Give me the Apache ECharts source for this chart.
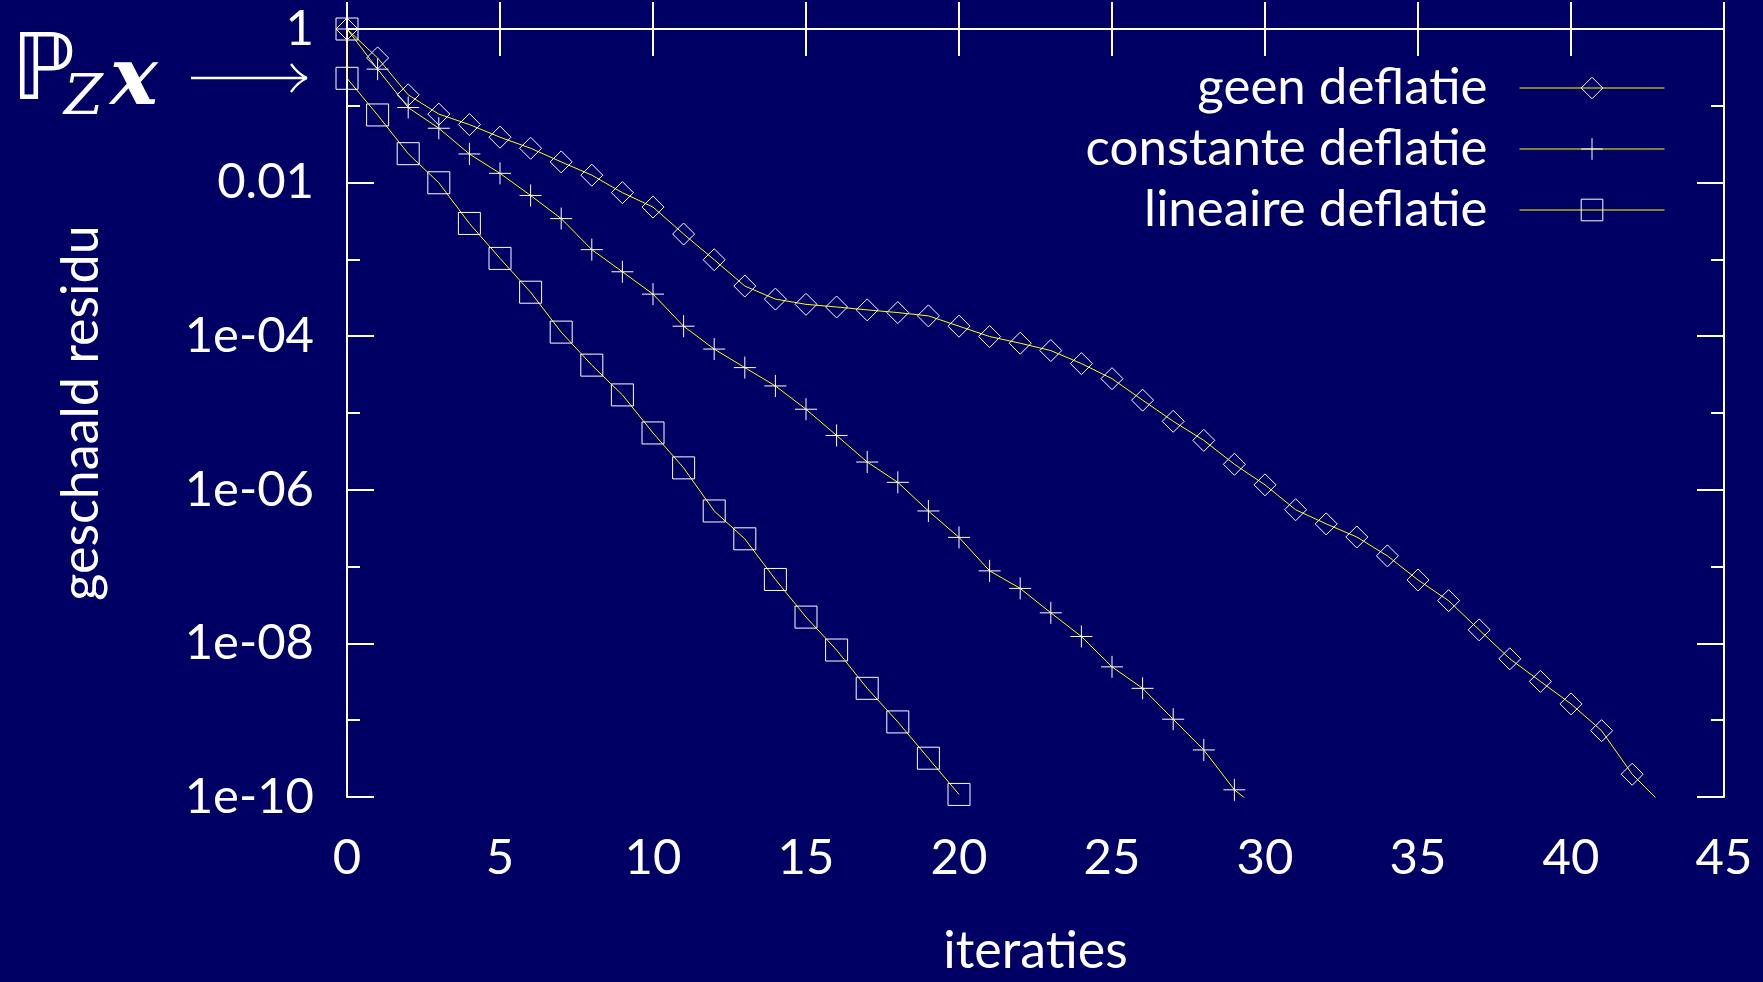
<!DOCTYPE html>
<html>
<head>
<meta charset="utf-8">
<script src="https://cdn.jsdelivr.net/npm/echarts@6/dist/echarts.min.js"></script>
<style>
  html, body { margin: 0; padding: 0; background: #000064; overflow: hidden; }
  #chart { width: 1763px; height: 982px; }
</style>
</head>
<body>
<div id="chart"></div>
<script>
// ---- data ----
const seriesNames = ['geen deflatie', 'constante deflatie', 'lineaire deflatie'];

const geenIter = [0,1,2,3,4,5,6,7,8,9,10,11,12,13,14,15,16,17,18,19,20,21,22,23,24,25,26,27,28,29,30,31,32,33,34,35,36,37,38,39,40,41,42,43];
const geenResidu = [1, 0.42, 0.139, 0.078, 0.057, 0.039, 0.028, 0.0186, 0.0125, 0.0074, 0.0048, 0.00214, 9.9e-4, 4.5e-4, 3.04e-4, 2.6e-4, 2.4e-4, 2.2e-4, 2.03e-4, 1.84e-4, 1.35e-4, 9.9e-5, 8.1e-5, 6.5e-5, 4.4e-5, 2.8e-5, 1.47e-5, 7.8e-6, 4.4e-6, 2.15e-6, 1.16e-6, 5.5e-7, 3.6e-7, 2.43e-7, 1.38e-7, 6.7e-8, 3.6e-8, 1.5e-8, 6.3e-9, 3.2e-9, 1.63e-9, 7.3e-10, 1.98e-10, 7.9e-11];

const constIter = [0,1,2,3,4,5,6,7,8,9,10,11,12,13,14,15,16,17,18,19,20,21,22,23,24,25,26,27,28,29,30];
const constResidu = [1, 0.30, 0.095, 0.051, 0.0236, 0.0132, 0.0068, 0.0034, 0.00134, 6.9e-4, 3.53e-4, 1.35e-4, 6.8e-5, 3.9e-5, 2.25e-5, 1.12e-5, 5.1e-6, 2.3e-6, 1.25e-6, 5.3e-7, 2.4e-7, 8.8e-8, 5.2e-8, 2.5e-8, 1.23e-8, 4.95e-9, 2.6e-9, 1.03e-9, 4.1e-10, 1.24e-10, 6e-11];

const linIter = [0,0,1,2,3,4,5,6,7,8,9,10,11,12,13,14,15,16,17,18,19,20];
const linResidu = [1, 0.228, 0.076, 0.0238, 0.00995, 0.00294, 0.00103, 3.74e-4, 1.13e-4, 4.2e-5, 1.72e-5, 5.5e-6, 1.93e-6, 5.3e-7, 2.3e-7, 6.8e-8, 2.2e-8, 8.2e-9, 2.6e-9, 9.5e-10, 3.2e-10, 1.08e-10];

const xTickLabels = ['0','5','10','15','20','25','30','35','40','45'];
const yTickValues = [1, 0.01, 1e-4, 1e-6, 1e-8, 1e-10];
const yTickLabels = ['1', '0.01', '1e-04', '1e-06', '1e-08', '1e-10'];

const xAxisTitle = 'iteraties';
const yAxisTitle = 'geschaald residu';

// ---- chart ----
const FONT = 'Lato';
const WHITE = '#ffffff';
const LINE = '#ffff00';
const BG = '#000064';

function toPoints(xs, ys) {
  return xs.map((x, i) => [x, Math.log10(ys[i])]);
}

function yLabel(v) {
  for (let i = 0; i < yTickValues.length; i++) {
    if (Math.abs(Math.log10(yTickValues[i]) - v) < 1e-9) return yTickLabels[i];
  }
  return '';
}
function xLabel(v) {
  const i = Math.round(v / 5);
  return xTickLabels[i] !== undefined ? xTickLabels[i] : '';
}

const axisLine = { show: true, lineStyle: { color: WHITE, width: 2 } };

const chart = echarts.init(document.getElementById('chart'), null, { renderer: 'canvas', width: 1763, height: 982 });

const markerStyle = { color: 'rgba(0,0,0,0)', borderColor: WHITE, borderWidth: 1 };
const plusPath = 'path://M0,5L10,5M5,0L5,10';

function lineSeries(name, pts, symbol) {
  return {
    name: name,
    type: 'line',
    data: pts,
    xAxisIndex: 0,
    yAxisIndex: 0,
    symbol: symbol,
    symbolSize: 22,
    showAllSymbol: true,
    clip: true,
    lineStyle: { color: LINE, width: 1 },
    itemStyle: markerStyle,
    emphasis: { disabled: true },
    animation: false
  };
}

const option = {
  backgroundColor: BG,
  animation: false,
  grid: { left: 347, top: 29, width: 1377, height: 775, containLabel: false },
  legend: {
    data: seriesNames,
    orient: 'vertical',
    align: 'right',
    right: 98,
    top: 62,
    padding: 0,
    itemWidth: 145,
    itemHeight: 27,
    itemGap: 9,
    selectedMode: false,
    textStyle: { color: WHITE, fontSize: 51, fontFamily: FONT, lineHeight: 52, padding: [0, 27, 0, 0] },
    itemStyle: { color: 'rgba(0,0,0,0)', borderColor: WHITE, borderWidth: 1 },
    lineStyle: { color: LINE, width: 1 }
  },
  xAxis: [
    {
      type: 'value', min: 0, max: 45, interval: 5, position: 'bottom',
      axisLine: axisLine,
      axisTick: { show: true, inside: true, length: 27, lineStyle: { color: WHITE, width: 2 } },
      axisLabel: { show: true, margin: 37, color: WHITE, fontSize: 49, fontFamily: FONT, formatter: xLabel },
      splitLine: { show: false },
      name: xAxisTitle, nameLocation: 'middle', nameGap: 128,
      nameTextStyle: { color: WHITE, fontSize: 52, fontFamily: FONT }
    },
    {
      type: 'value', min: 0, max: 45, interval: 5, position: 'top',
      axisLine: axisLine,
      axisTick: { show: true, inside: true, length: 27, lineStyle: { color: WHITE, width: 2 } },
      axisLabel: { show: false },
      splitLine: { show: false }
    }
  ],
  yAxis: [
    {
      type: 'value', min: -10, max: 0, interval: 2, position: 'left', offset: 0,
      axisLine: axisLine,
      axisTick: { show: true, inside: true, length: 27, lineStyle: { color: WHITE, width: 2 } },
      axisLabel: { show: true, margin: 33, color: WHITE, fontSize: 49, fontFamily: FONT, formatter: yLabel },
      splitLine: { show: false },
      name: yAxisTitle, nameLocation: 'middle', nameGap: 240,
      nameTextStyle: { color: WHITE, fontSize: 52, fontFamily: FONT }
    },
    {
      type: 'value', min: -10, max: 0, interval: 1, position: 'left', offset: 0,
      axisLine: { show: false },
      axisTick: { show: true, inside: true, length: 13, lineStyle: { color: WHITE, width: 2 } },
      axisLabel: { show: false },
      splitLine: { show: false }
    },
    {
      type: 'value', min: -10, max: 0, interval: 2, position: 'right', offset: 0,
      axisLine: axisLine,
      axisTick: { show: true, inside: true, length: 27, lineStyle: { color: WHITE, width: 2 } },
      axisLabel: { show: false },
      splitLine: { show: false }
    },
    {
      type: 'value', min: -10, max: 0, interval: 1, position: 'right', offset: 0,
      axisLine: { show: false },
      axisTick: { show: true, inside: true, length: 13, lineStyle: { color: WHITE, width: 2 } },
      axisLabel: { show: false },
      splitLine: { show: false }
    }
  ],
  series: [
    lineSeries(seriesNames[0], toPoints(geenIter, geenResidu), 'diamond'),
    lineSeries(seriesNames[1], toPoints(constIter, constResidu), plusPath),
    lineSeries(seriesNames[2], toPoints(linIter, linResidu), 'rect')
  ],
  graphic: [
    { type: 'text', x: 11, y: 75, style: { text: '\u2119', fill: WHITE, font: '92px "DejaVu Sans"', textAlign: 'left', textVerticalAlign: 'middle' } },
    { type: 'text', x: 64, y: 99, style: { text: 'Z', fill: WHITE, font: 'italic 56px "DejaVu Serif"', textAlign: 'left', textVerticalAlign: 'middle' } },
    { type: 'text', x: 110, y: 83, style: { text: 'x', fill: WHITE, font: 'italic bold 80px "DejaVu Serif"', textAlign: 'left', textVerticalAlign: 'middle' } },
    { type: 'line', shape: { x1: 191, y1: 78, x2: 306, y2: 78 }, style: { stroke: WHITE, lineWidth: 2.3 } },
    { type: 'bezierCurve', shape: { x1: 291, y1: 64, x2: 307, y2: 78, cpx1: 298, cpy1: 74 }, style: { stroke: WHITE, lineWidth: 2.3, fill: null } },
    { type: 'bezierCurve', shape: { x1: 291, y1: 92, x2: 307, y2: 78, cpx1: 298, cpy1: 82 }, style: { stroke: WHITE, lineWidth: 2.3, fill: null } }
  ]
};

chart.setOption(option);
</script>
</body>
</html>
